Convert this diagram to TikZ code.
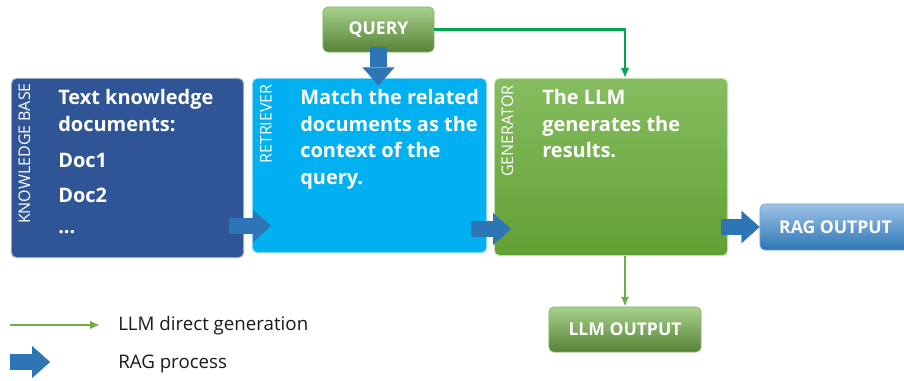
\documentclass[tikz,border=0pt]{standalone}
\usepackage{fontspec}
\setmainfont{Open Sans}
\usetikzlibrary{arrows.meta}
\definecolor{kbblue}{RGB}{47,85,151}
\definecolor{retblue}{RGB}{0,176,240}
\definecolor{gentop}{RGB}{134,189,96}
\definecolor{genbot}{RGB}{98,160,52}
\definecolor{greentop}{RGB}{169,209,142}
\definecolor{greenbot}{RGB}{84,130,53}
\definecolor{bluetop}{RGB}{157,195,230}
\definecolor{bluebot}{RGB}{46,117,182}
\definecolor{flowblue}{RGB}{46,117,182}
\definecolor{querygreen}{RGB}{0,168,80}
\definecolor{llmgreen}{RGB}{112,173,71}
\definecolor{legendtext}{RGB}{25,25,25}
\tikzset{
  stage/.style={rectangle, rounded corners=3.5pt, anchor=north west, inner sep=0pt, line width=0.7pt},
  stagetext/.style={inner sep=0pt, text=white, align=left, font=\bfseries\fontsize{14.2}{18.9}\selectfont},
  sidelabel/.style={inner sep=0pt, text=white, rotate=90, anchor=east, font=\fontsize{11.4}{13}\selectfont},
  tag/.style={rectangle, rounded corners=3.5pt, inner sep=0pt, line width=0.5pt, text=white,
    font=\bfseries\fontsize{12.5}{15}\selectfont},
  greentag/.style={tag, top color=greentop, bottom color=greenbot, draw=greentop!60!greenbot},
  bluetag/.style={tag, top color=bluetop, bottom color=bluebot, draw=bluetop!60!bluebot},
  direct/.style={#1, line width=1.5pt, -{Latex[length=7pt,width=6pt]}},
  ragflow/.style={flowblue, line width=12pt, -{Triangle[length=12.8pt,width=22.8pt,line width=0.1pt]}},
  legend/.style={inner sep=0pt, text=legendtext, anchor=base west, font=\fontsize{13.3}{15}\selectfont}
}
\begin{document}
\begin{tikzpicture}[x=0.025cm, y=-0.025cm]
\useasboundingbox (0,0) rectangle (904,381);
% the three stages
\node[stage, fill=kbblue, draw=kbblue!50!white, minimum width=5.8cm, minimum height=4.475cm] (kb) at (11,78) {};
\node[stage, fill=retblue, draw=retblue!50!white, minimum width=5.85cm, minimum height=4.35cm] (ret) at (252,78) {};
\node[stage, top color=gentop, bottom color=genbot, draw=gentop!50!white, minimum width=5.825cm, minimum height=4.425cm] (gen) at (494,78) {};
\node[sidelabel] (kblabel) at (24.5,83) {KNOWLEDGE BASE};
\node[sidelabel] (retlabel) at (266,84) {RETRIEVER};
\node[sidelabel] (genlabel) at (507.5,85) {GENERATOR};
\node[stagetext, anchor=north west] (kbtext) at (58,89) {Text knowledge\\documents:};
\node[stagetext, anchor=base west] (doc1) at (58,167) {Doc1};
\node[stagetext, anchor=base west] (doc2) at (58,203) {Doc2};
\node[stagetext, anchor=base west] (docmore) at (58,233) {...};
\node[stagetext, anchor=north west] (rettext) at (300,89) {Match the related\\documents as the\\context of the\\query.};
\node[stagetext, anchor=north west] (gentext) at (542,89) {The LLM\\generates the\\results.};
% input and outputs
\node[greentag, minimum width=2.775cm, minimum height=1.125cm] (query) at (378.5,29.5) {QUERY};
\node[bluetag, minimum width=3.775cm, minimum height=1.15cm] (rag) at (835.5,227) {RAG OUTPUT};
\node[greentag, minimum width=3.8cm, minimum height=1.125cm] (llmout) at (625,329.5) {LLM OUTPUT};
% direct generation
\draw[direct=querygreen] (query.east) -| (gen.north -| llmout.north);
\draw[direct=llmgreen] (gen.south -| llmout.north) -- (llmout.north);
% rag process
\draw[ragflow] ([shift={(0,-5)}]query.south) -- ++(0,38);
\draw[ragflow] ([shift={(-15,-32)}]kb.south east) -- ++(42,0);
\draw[ragflow] ([shift={(-16,-24)}]ret.south east) -- ++(40,0);
\draw[ragflow] ([shift={(-39,0)}]rag.west) -- (rag.west);
% legend
\coordinate (legdirect) at (10,325);
\coordinate (legrag) at (10,362);
\draw[direct=llmgreen] (legdirect) -- ++(90,0);
\node[legend] (legdirecttext) at (118,330) {LLM direct generation};
\draw[ragflow] (legrag) -- ++(40,0);
\node[legend] (legragtext) at (118,368) {RAG process};
\end{tikzpicture}
\end{document}
